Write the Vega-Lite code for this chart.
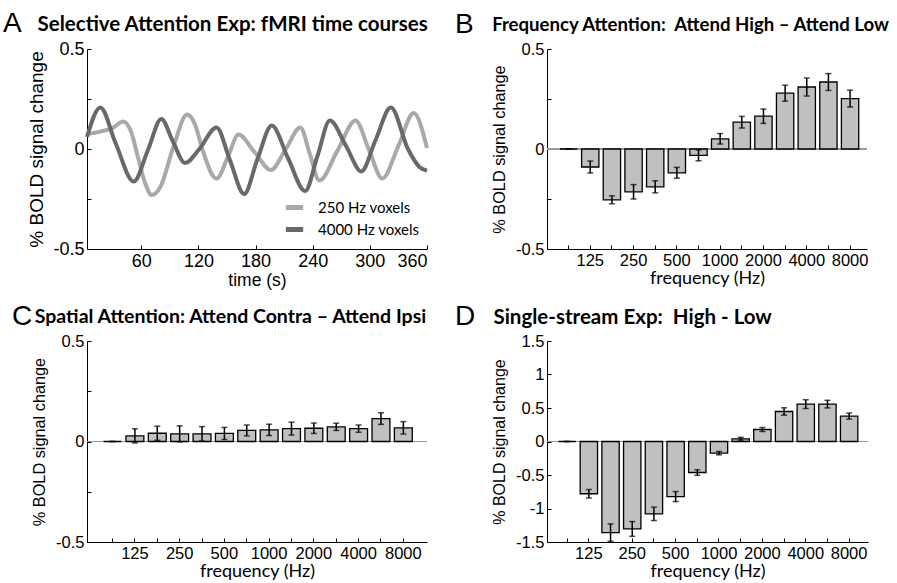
{
  "$schema": "https://vega.github.io/schema/vega-lite/v6.json",
  "padding": {"left": 3, "top": 10, "right": 5, "bottom": 5},
  "bounds": "flush",
  "columns": 2,
  "spacing": {"row": 92, "column": 120},
  "datasets": {
    "tc": [
      {"series": "250 Hz voxels", "t": 3, "v": 0.075},
      {"series": "250 Hz voxels", "t": 17, "v": 0.087},
      {"series": "250 Hz voxels", "t": 30, "v": 0.105},
      {"series": "250 Hz voxels", "t": 41, "v": 0.137},
      {"series": "250 Hz voxels", "t": 49, "v": 0.09},
      {"series": "250 Hz voxels", "t": 57, "v": -0.05},
      {"series": "250 Hz voxels", "t": 64, "v": -0.17},
      {"series": "250 Hz voxels", "t": 71, "v": -0.23},
      {"series": "250 Hz voxels", "t": 80, "v": -0.19},
      {"series": "250 Hz voxels", "t": 94, "v": 0.015},
      {"series": "250 Hz voxels", "t": 108, "v": 0.172},
      {"series": "250 Hz voxels", "t": 117, "v": 0.115},
      {"series": "250 Hz voxels", "t": 124, "v": 0.0},
      {"series": "250 Hz voxels", "t": 139, "v": -0.148},
      {"series": "250 Hz voxels", "t": 151, "v": -0.038},
      {"series": "250 Hz voxels", "t": 162, "v": 0.072},
      {"series": "250 Hz voxels", "t": 179, "v": -0.016},
      {"series": "250 Hz voxels", "t": 196, "v": -0.105},
      {"series": "250 Hz voxels", "t": 212, "v": 0.002},
      {"series": "250 Hz voxels", "t": 227, "v": 0.108},
      {"series": "250 Hz voxels", "t": 237, "v": -0.025},
      {"series": "250 Hz voxels", "t": 247, "v": -0.158},
      {"series": "250 Hz voxels", "t": 266, "v": -0.008},
      {"series": "250 Hz voxels", "t": 285, "v": 0.142},
      {"series": "250 Hz voxels", "t": 299, "v": -0.003},
      {"series": "250 Hz voxels", "t": 313, "v": -0.148},
      {"series": "250 Hz voxels", "t": 330, "v": 0.016},
      {"series": "250 Hz voxels", "t": 346, "v": 0.18},
      {"series": "250 Hz voxels", "t": 360, "v": 0.005},
      {"series": "4000 Hz voxels", "t": 3, "v": 0.06},
      {"series": "4000 Hz voxels", "t": 17, "v": 0.208},
      {"series": "4000 Hz voxels", "t": 33, "v": 0.03},
      {"series": "4000 Hz voxels", "t": 52, "v": -0.163},
      {"series": "4000 Hz voxels", "t": 67, "v": -0.005},
      {"series": "4000 Hz voxels", "t": 81, "v": 0.15},
      {"series": "4000 Hz voxels", "t": 93, "v": 0.04},
      {"series": "4000 Hz voxels", "t": 106, "v": -0.07},
      {"series": "4000 Hz voxels", "t": 121, "v": 0.0},
      {"series": "4000 Hz voxels", "t": 139, "v": 0.108},
      {"series": "4000 Hz voxels", "t": 153, "v": -0.055},
      {"series": "4000 Hz voxels", "t": 168, "v": -0.225},
      {"series": "4000 Hz voxels", "t": 182, "v": -0.05},
      {"series": "4000 Hz voxels", "t": 197, "v": 0.117},
      {"series": "4000 Hz voxels", "t": 214, "v": -0.045},
      {"series": "4000 Hz voxels", "t": 232, "v": -0.21},
      {"series": "4000 Hz voxels", "t": 245, "v": -0.035},
      {"series": "4000 Hz voxels", "t": 258, "v": 0.142},
      {"series": "4000 Hz voxels", "t": 275, "v": 0.015},
      {"series": "4000 Hz voxels", "t": 291, "v": -0.112},
      {"series": "4000 Hz voxels", "t": 306, "v": 0.045},
      {"series": "4000 Hz voxels", "t": 322, "v": 0.208},
      {"series": "4000 Hz voxels", "t": 340, "v": 0.0},
      {"series": "4000 Hz voxels", "t": 352, "v": -0.09},
      {"series": "4000 Hz voxels", "t": 360, "v": -0.108}
    ],
    "B": [
      {"freq": "88", "value": 0, "err": 0},
      {"freq": "125", "value": -0.09, "err": 0.03},
      {"freq": "177", "value": -0.254, "err": 0.02},
      {"freq": "250", "value": -0.214, "err": 0.036},
      {"freq": "354", "value": -0.189, "err": 0.03},
      {"freq": "500", "value": -0.119, "err": 0.027},
      {"freq": "707", "value": -0.032, "err": 0.027},
      {"freq": "1000", "value": 0.051, "err": 0.026},
      {"freq": "1414", "value": 0.134, "err": 0.029},
      {"freq": "2000", "value": 0.164, "err": 0.036},
      {"freq": "2828", "value": 0.279, "err": 0.04},
      {"freq": "4000", "value": 0.31, "err": 0.045},
      {"freq": "5657", "value": 0.335, "err": 0.042},
      {"freq": "8000", "value": 0.252, "err": 0.042}
    ],
    "C": [
      {"freq": "88", "value": 0, "err": 0},
      {"freq": "125", "value": 0.028, "err": 0.035},
      {"freq": "177", "value": 0.041, "err": 0.035},
      {"freq": "250", "value": 0.038, "err": 0.04},
      {"freq": "354", "value": 0.038, "err": 0.036},
      {"freq": "500", "value": 0.04, "err": 0.03},
      {"freq": "707", "value": 0.055, "err": 0.027},
      {"freq": "1000", "value": 0.058, "err": 0.028},
      {"freq": "1414", "value": 0.064, "err": 0.032},
      {"freq": "2000", "value": 0.066, "err": 0.026},
      {"freq": "2828", "value": 0.073, "err": 0.018},
      {"freq": "4000", "value": 0.064, "err": 0.018},
      {"freq": "5657", "value": 0.114, "err": 0.029},
      {"freq": "8000", "value": 0.068, "err": 0.031}
    ],
    "D": [
      {"freq": "88", "value": 0, "err": 0},
      {"freq": "125", "value": -0.78, "err": 0.063},
      {"freq": "177", "value": -1.36, "err": 0.13},
      {"freq": "250", "value": -1.305, "err": 0.11},
      {"freq": "354", "value": -1.08, "err": 0.1},
      {"freq": "500", "value": -0.822, "err": 0.075},
      {"freq": "707", "value": -0.463, "err": 0.042},
      {"freq": "1000", "value": -0.174, "err": 0.025},
      {"freq": "1414", "value": 0.04, "err": 0.022},
      {"freq": "2000", "value": 0.179, "err": 0.03},
      {"freq": "2828", "value": 0.448, "err": 0.055},
      {"freq": "4000", "value": 0.558, "err": 0.067},
      {"freq": "5657", "value": 0.558, "err": 0.057},
      {"freq": "8000", "value": 0.379, "err": 0.045}
    ]
  },
  "concat": [
    {
      "width": 340,
      "height": 200,
      "title": {"text": "A", "subtitle": "\u200b\u2003\u2002\u2009\u2005\u200aSelective Attention Exp: fMRI time courses", "dx": -84, "subtitleFontSize": 20.5},
      "data": {"name": "tc"},
      "mark": {"type": "line", "strokeWidth": 4, "interpolate": "monotone"},
      "encoding": {
        "x": {"field": "t", "type": "quantitative", "scale": {"domain": [3, 360], "nice": false, "zero": false},
          "axis": {"values": [60, 120, 180, 240, 300, 360], "title": "time (s)", "labelFontSize": 18, "titleFontSize": 17.5, "titlePadding": 1}},
        "y": {"field": "v", "type": "quantitative", "scale": {"domain": [-0.5, 0.5], "nice": false},
          "axis": {"values": [-0.5, -0.25, 0, 0.25, 0.5], "labelExpr": "abs(datum.value) == 0.25 ? '' : (datum.value < 0 ? '-' : '') + format(abs(datum.value), '~g')", "title": "% BOLD signal change", "labelFontSize": 18, "titleFontSize": 19, "titlePadding": 6}},
        "color": {"field": "series", "type": "nominal",
          "scale": {"domain": ["250 Hz voxels", "4000 Hz voxels"], "range": ["#a9a9a9", "#696969"]},
          "legend": {"title": null, "orient": "none", "legendX": 196, "legendY": 147, "symbolType": "stroke", "symbolStrokeWidth": 5, "symbolSize": 300, "labelFont": "Lato", "labelFontSize": 15, "labelColor": "black", "labelOffset": 12, "rowPadding": 0}}
      }
    },
    {
      "width": 320,
      "height": 200,
      "title": {"text": "B", "subtitle": "\u200b\u2003\u2003\u2002Frequency Attention:\u00a0 Attend High \u2013 Attend Low", "dx": -92, "subtitleFontSize": 18.6},
      "data": {"name": "B"},
      "layer": [
        {"mark": {"type": "rule", "color": "#9a9a9a", "strokeWidth": 1}, "encoding": {"y": {"datum": 0, "type": "quantitative"}}},
        {"mark": {"type": "bar", "fill": "#c0c0c0", "stroke": "black", "strokeWidth": 1.3},
          "encoding": {
            "x": {"field": "freq", "type": "ordinal", "sort": null, "scale": {"paddingInner": 0.2, "paddingOuter": 0.49, "align": 0.61},
              "axis": {"labelExpr": "indexof(['125','250','500','1000','2000','4000','8000'], datum.value) >= 0 ? datum.value : ''", "title": "frequency (Hz)", "labelAngle": 0, "labelFontSize": 16.5, "titleFont": "Lato", "titleFontSize": 18, "titlePadding": 1}},
            "y": {"field": "value", "type": "quantitative", "title": "% BOLD signal change", "scale": {"domain": [-0.5, 0.5], "nice": false},
              "axis": {"values": [-0.5, -0.25, 0, 0.25, 0.5], "labelExpr": "abs(datum.value) == 0.25 ? '' : (datum.value < 0 ? '-' : '') + format(abs(datum.value), '~g')", "labelFontSize": 16.5, "titleFontSize": 16.3, "titlePadding": 8}}
          }},
        {"mark": {"type": "errorbar", "ticks": {"size": 6}, "thickness": 1.5, "color": "black"},
          "encoding": {
            "x": {"field": "freq", "type": "ordinal", "sort": null},
            "y": {"field": "value", "type": "quantitative", "title": "% BOLD signal change"},
            "yError": {"field": "err"}
          }}
      ]
    },
    {
      "width": 340,
      "height": 201,
      "title": {"text": "C", "subtitle": "\u200b\u2003\u2006\u2005Spatial Attention: Attend Contra \u2013 Attend Ipsi", "dx": -75, "subtitleFontSize": 19.5},
      "data": {"name": "C"},
      "layer": [
        {"mark": {"type": "rule", "color": "#9a9a9a", "strokeWidth": 1}, "encoding": {"y": {"datum": 0, "type": "quantitative"}}},
        {"mark": {"type": "bar", "fill": "#c0c0c0", "stroke": "black", "strokeWidth": 1.3},
          "encoding": {
            "x": {"field": "freq", "type": "ordinal", "sort": null, "scale": {"paddingInner": 0.2, "paddingOuter": 0.7, "align": 0.53},
              "axis": {"labelExpr": "indexof(['125','250','500','1000','2000','4000','8000'], datum.value) >= 0 ? datum.value : ''", "title": "frequency (Hz)", "labelAngle": 0, "labelFontSize": 16.5, "titleFont": "Lato", "titleFontSize": 18, "titlePadding": 1}},
            "y": {"field": "value", "type": "quantitative", "title": "% BOLD signal change", "scale": {"domain": [-0.5, 0.5], "nice": false},
              "axis": {"values": [-0.5, -0.25, 0, 0.25, 0.5], "labelExpr": "abs(datum.value) == 0.25 ? '' : (datum.value < 0 ? '-' : '') + format(abs(datum.value), '~g')", "labelFontSize": 16.5, "titleFontSize": 16.3, "titlePadding": 8}}
          }},
        {"mark": {"type": "errorbar", "ticks": {"size": 6}, "thickness": 1.5, "color": "black"},
          "encoding": {
            "x": {"field": "freq", "type": "ordinal", "sort": null},
            "y": {"field": "value", "type": "quantitative", "title": "% BOLD signal change"},
            "yError": {"field": "err"}
          }}
      ]
    },
    {
      "width": 321,
      "height": 201,
      "title": {"text": "D", "subtitle": "\u200b\u2003\u2002\u2005\u2005\u2009Single-stream Exp:\u00a0 High - Low", "dx": -92, "subtitleFontSize": 20.5},
      "data": {"name": "D"},
      "layer": [
        {"mark": {"type": "rule", "color": "#9a9a9a", "strokeWidth": 1}, "encoding": {"y": {"datum": 0, "type": "quantitative", "axis": {"values": [-1.5, -1, -0.5, 0, 0.5, 1, 1.5], "labelOverlap": false}}}},
        {"mark": {"type": "bar", "fill": "#c0c0c0", "stroke": "black", "strokeWidth": 1.3},
          "encoding": {
            "x": {"field": "freq", "type": "ordinal", "sort": null, "scale": {"paddingInner": 0.2, "paddingOuter": 0.5, "align": 0.53},
              "axis": {"labelExpr": "indexof(['125','250','500','1000','2000','4000','8000'], datum.value) >= 0 ? datum.value : ''", "title": "frequency (Hz)", "labelAngle": 0, "labelFontSize": 16.5, "titleFont": "Lato", "titleFontSize": 18, "titlePadding": 1}},
            "y": {"field": "value", "type": "quantitative", "title": "% BOLD signal change", "scale": {"domain": [-1.5, 1.5], "nice": false},
              "axis": {"values": [-1.5, -1, -0.5, 0, 0.5, 1, 1.5], "labelOverlap": false, "labelExpr": "(datum.value < 0 ? '-' : '') + format(abs(datum.value), '~g')", "labelFontSize": 16.5, "titleFontSize": 16, "titlePadding": 8}}
          }},
        {"mark": {"type": "errorbar", "ticks": {"size": 6}, "thickness": 1.5, "color": "black"},
          "encoding": {
            "x": {"field": "freq", "type": "ordinal", "sort": null},
            "y": {"field": "value", "type": "quantitative", "title": "% BOLD signal change", "axis": {"values": [-1.5, -1, -0.5, 0, 0.5, 1, 1.5], "labelOverlap": false}},
            "yError": {"field": "err"}
          }}
      ]
    }
  ],
  "config": {
    "view": {"stroke": null},
    "font": "Liberation Sans",
    "axis": {"domainColor": "black", "tickColor": "black", "labelColor": "black", "titleColor": "black", "labelFont": "Liberation Sans", "titleFont": "Liberation Sans", "titleFontWeight": "normal", "grid": false, "tickSize": -4, "labelPadding": 7, "labelOverlap": false},
    "title": {"anchor": "start", "frame": "group", "font": "Liberation Sans", "fontSize": 28, "fontWeight": "normal", "color": "black", "subtitleFont": "Lato", "subtitleFontSize": 18, "subtitleFontWeight": "bold", "subtitleColor": "black", "subtitlePadding": -23, "offset": 2}
  }
}
